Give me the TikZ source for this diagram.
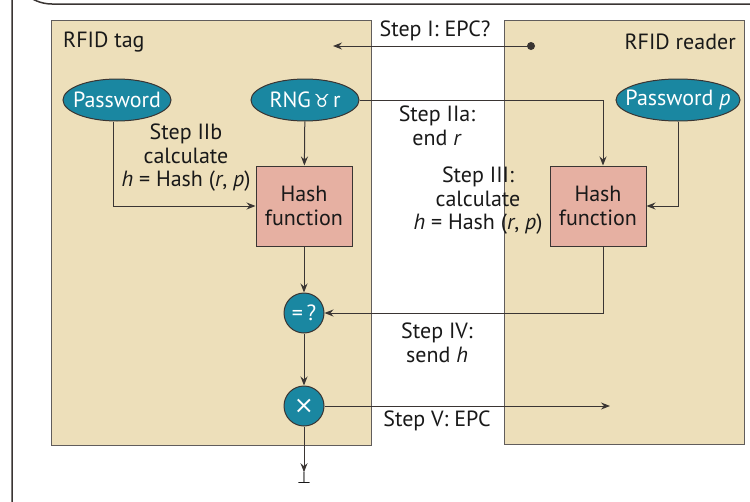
\documentclass[tikz,border=0pt]{standalone}
\usepackage{fontspec}
\setmainfont{PT Sans}
\newfontfamily\symfont{DejaVu Sans}
\usetikzlibrary{arrows.meta,shapes.geometric}
\definecolor{tan}{HTML}{EDDFBA}
\definecolor{teal}{HTML}{1A87A1}
\definecolor{pinkbox}{HTML}{E6B0A2}
\definecolor{edge}{HTML}{3A3533}
\begin{document}
\begin{tikzpicture}[x=1pt,y=-1pt,
  every node/.style={font=\fontsize{22}{23.5}\selectfont, text=black!90},
  party/.style={draw=edge!80, line width=1pt, fill=tan},
  oval/.style={ellipse, draw=edge, line width=1pt, fill=teal, inner sep=0pt, minimum height=42pt},
  ovaltext/.style={label={[text=white, inner sep=0pt]center:#1}},
  hashbox/.style={rectangle, draw=edge, line width=1pt, fill=pinkbox, minimum width=96pt, minimum height=80pt, align=center, inner sep=0pt},
  op/.style={circle, draw=edge, line width=1pt, fill=teal, text=white, minimum size=40pt, inner sep=0pt},
  lbl/.style={align=center, inner sep=0pt},
  conn/.style={draw=edge, line width=1pt},
  arr/.style={conn, -{Stealth[length=9pt,width=7pt,inset=3pt]}}
]
\useasboundingbox (0,0) rectangle (750,501);
\fill[white] (0,0) rectangle (750,501);
% outer frame
\draw[line width=1.5pt, edge] (752,4) -- (52,4) arc[start angle=90, end angle=180, radius=40] -- (12,503);
% party boxes
\draw[party] (51,20) rectangle (371,445);
\draw[party] (504,20) rectangle (744,444);
\node[anchor=west, inner sep=0pt] (tagl) at (63,42) {RFID tag};
\node[anchor=east, inner sep=0pt] (readl) at (736,42) {RFID reader};
% nodes
\node[oval, minimum width=108pt, ovaltext={Password}] (pw) at (117,100) {};
\node[oval, minimum width=108pt, ovaltext={RNG{\symfont\fontsize{18}{18}\selectfont\,♉\,}r}] (rng) at (305,100) {};
\node[oval, minimum width=124pt, ovaltext={Password \textit{p}}] (pwp) at (678,100) {};
\node[hashbox] (h1) at (304,206) {Hash\\function};
\node[hashbox] (h2) at (598,206) {Hash\\function};
\node[op] (eq) at (304,313) {=\,?};
\node[op] (x) at (304,406) {\symfont\fontsize{24}{24}\selectfont ×};
\node[inner sep=0pt] (bot) at (304,478) {\symfont\fontsize{16}{16}\selectfont ⊥};
\coordinate (dot) at (531,46);
\coordinate (tagin) at (333,46);
\coordinate (epcout) at (610,406);
% labels
\node[lbl] (s1) at (435,31) {Step I: EPC?};
\node[lbl] (s2b) at (186,158) {Step IIb\\calculate\\\textit{h} = Hash (\textit{r}, \textit{p})};
\node[lbl] (s2a) at (437,126) {Step IIa:\\end \textit{r}};
\node[lbl] (s3) at (478,201) {Step III:\\calculate\\\textit{h} = Hash (\textit{r}, \textit{p})};
\node[lbl] (s4) at (437,343) {Step IV:\\send \textit{h}};
\node[lbl] (s5) at (437,421) {Step V: EPC};
% connectors
\fill[edge] (dot) circle (4pt);
\draw[arr] (dot) -- (tagin);
\draw[arr] (pw.south -| 113,0) |- (h1.west);
\draw[arr] (rng) -- (h1);
\draw[arr] (rng.east) -| (h2.north -| 603,0);
\draw[arr] (pwp.south) |- (h2.east);
\draw[arr] (h1) -- (eq);
\draw[arr] (h2.south -| 603,0) |- (eq.east);
\draw[arr] (eq) -- (x);
\draw[arr] (x.east) -- (epcout);
\draw[arr] (x.south) -- (bot.north);
\end{tikzpicture}
\end{document}
